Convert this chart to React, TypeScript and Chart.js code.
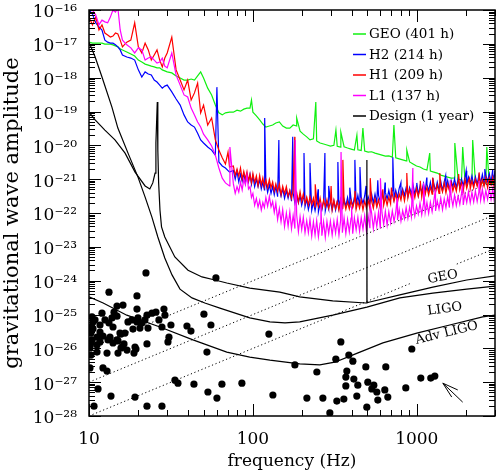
import React, { useEffect, useRef } from 'react';
import { Chart, registerables } from 'chart.js';

Chart.register(...registerables);

// ---------------------------------------------------------------------------
// Strain spectra (log10 amplitude). Main grid in Hz; above ~76 Hz the grid
// values trace the top of the noise band and the in-between frequencies
// (specFreqMid) trace its bottom.
// ---------------------------------------------------------------------------
const specFreq = [
  10, 10.5, 11, 11.5, 12, 12.5, 13, 13.5, 14, 14.5,
  15, 15.5, 16, 17, 18, 19, 20, 21, 22, 23,
  24, 25, 26, 27, 28, 29, 30, 32, 34, 36,
  38, 40, 42, 44, 46, 48, 50, 53, 56, 59,
  62, 65, 68, 72, 76, 80, 84, 88, 92, 96,
  100, 105, 110, 115, 120, 126, 132, 138, 145, 152,
  160, 168, 176, 185, 194, 203, 213, 223, 234, 245,
  257, 270, 283, 297, 312, 327, 343, 360, 378, 397,
  416, 437, 458, 481, 505, 530, 556, 584, 613, 643,
  675, 709, 744, 781, 820, 861, 904, 949, 996, 1046,
  1098, 1153, 1210, 1270, 1333, 1400, 1470, 1543, 1620, 1700,
  1785, 1875, 1968, 2066, 2170, 2278, 2392, 2512, 2637, 2769,
  2907, 3000,
];

const specFreqMid = [
  78, 82, 86, 90, 94, 98, 102.5, 107.5, 112.5, 117.5,
  123, 129, 135, 141.5, 148.5, 156, 164, 172, 180.5, 189.5,
  198.5, 208, 218, 228.5, 239.5, 251, 263.5, 276.5, 290, 304.5,
  319.5, 335, 351.5, 369, 387.5, 406.5, 426.5, 447.5, 469.5, 493,
  517.5, 543, 570, 598.5, 628, 659, 692, 726.5, 762.5, 800.5,
  840.5, 882.5, 926.5, 972.5, 1021, 1072, 1125, 1181, 1240, 1301,
  1366, 1435, 1506, 1581, 1660, 1742, 1830, 1921, 2017, 2118,
  2224, 2335, 2452, 2574, 2703, 2838, 2953,
];

const geoLogH = [
  -16.95, -16.98, -16.98, -16.98, -16.98, -17.01, -17.01, -17.01, -17.03, -17.06,
  -17.09, -17.15, -17.18, -17.24, -17.30, -17.36, -17.48, -17.54, -17.60, -17.63,
  -17.66, -17.68, -17.71, -17.71, -17.77, -17.80, -17.83, -17.86, -17.95, -18.01,
  -18.07, -18.07, -18.04, -18.07, -17.95, -17.83, -18.01, -18.31, -18.51, -18.81,
  -19.04, -19.10, -19.04, -19.02, -19.02, -18.96, -18.99, -18.93, -18.90, -18.90,
  -19.02, -19.13, -19.25, -19.37, -19.46, -19.43, -19.40, -19.34, -19.31, -19.43,
  -19.49, -19.49, -19.40, -19.43, -19.58, -19.67, -19.75, -19.84, -19.81, -19.87,
  -19.93, -19.96, -19.99, -20.02, -20.00, -20.03, -20.05, -20.04, -20.08, -20.11,
  -20.14, -20.13, -20.15, -20.17, -20.20, -20.19, -20.23, -20.26, -20.29, -20.32,
  -20.31, -20.35, -20.37, -20.40, -20.43, -20.46, -20.49, -20.55, -20.61, -20.64,
  -20.70, -20.73, -20.76, -20.79, -20.82, -20.88, -20.91, -20.94, -20.97, -20.96,
  -21.00, -21.03, -21.05, -21.04, -21.06, -21.08, -21.11, -21.10, -21.12, -21.14,
  -21.13, -21.14,
];

const h2LogH = [
  -16.00, -16.12, -16.38, -16.50, -16.59, -16.89, -16.95, -16.98, -16.98, -17.03,
  -17.09, -17.18, -17.33, -17.39, -17.42, -17.48, -17.77, -17.98, -17.83, -17.89,
  -17.92, -18.07, -18.13, -18.22, -18.31, -18.25, -18.22, -18.42, -18.63, -18.81,
  -19.10, -19.31, -19.40, -19.46, -19.64, -19.84, -19.93, -20.05, -20.14, -20.29,
  -20.49, -20.61, -20.67, -20.79, -20.74, -20.77, -20.85, -20.84, -20.87, -20.85,
  -20.91, -21.00, -21.01, -21.09, -21.09, -21.16, -21.21, -21.21, -21.29, -21.28,
  -21.34, -21.35, -21.41, -21.48, -21.49, -21.57, -21.59, -21.69, -21.68, -21.68,
  -21.73, -21.66, -21.69, -21.64, -21.64, -21.65, -21.60, -21.60, -21.54, -21.58,
  -21.54, -21.48, -21.53, -21.49, -21.52, -21.44, -21.44, -21.48, -21.40, -21.39,
  -21.33, -21.34, -21.33, -21.27, -21.29, -21.25, -21.25, -21.17, -21.20, -21.21,
  -21.13, -21.15, -21.09, -21.13, -21.09, -21.06, -21.08, -21.04, -21.04, -20.99,
  -20.99, -21.00, -20.95, -20.94, -20.91, -20.93, -20.89, -20.86, -20.88, -20.84,
  -20.84, -20.76,
];
const h2LowerLogH = [
  -21.00, -21.08, -21.06, -21.11, -21.08, -21.15, -21.22, -21.22, -21.29, -21.32,
  -21.39, -21.42, -21.46, -21.52, -21.50, -21.57, -21.56, -21.65, -21.71, -21.70,
  -21.77, -21.81, -21.90, -21.92, -21.93, -21.97, -21.91, -21.93, -21.88, -21.91,
  -21.91, -21.84, -21.84, -21.80, -21.82, -21.80, -21.76, -21.77, -21.72, -21.76,
  -21.70, -21.71, -21.72, -21.66, -21.64, -21.59, -21.60, -21.57, -21.55, -21.55,
  -21.48, -21.51, -21.43, -21.45, -21.47, -21.39, -21.38, -21.35, -21.37, -21.35,
  -21.32, -21.34, -21.27, -21.30, -21.23, -21.26, -21.26, -21.19, -21.19, -21.15,
  -21.18, -21.15, -21.12, -21.14, -21.07, -21.10, -21.02,
];

const h1LogH = [
  -16.21, -16.44, -16.21, -16.59, -16.44, -16.68, -16.74, -16.80, -16.77, -16.68,
  -16.71, -16.89, -17.09, -16.95, -16.89, -16.38, -17.09, -17.27, -16.98, -17.18,
  -17.48, -17.33, -17.18, -17.48, -17.68, -17.42, -17.27, -16.80, -17.77, -18.07,
  -18.36, -18.07, -18.66, -18.45, -18.16, -19.04, -18.81, -19.40, -19.19, -19.84,
  -20.14, -20.37, -20.55, -20.64, -20.61, -20.70, -20.67, -20.77, -20.78, -20.86,
  -20.83, -20.90, -20.89, -20.96, -21.02, -21.01, -21.08, -21.14, -21.14, -21.21,
  -21.22, -21.33, -21.30, -21.40, -21.37, -21.44, -21.53, -21.52, -21.56, -21.62,
  -21.56, -21.62, -21.60, -21.68, -21.62, -21.66, -21.60, -21.64, -21.67, -21.63,
  -21.64, -21.67, -21.61, -21.65, -21.63, -21.65, -21.57, -21.61, -21.52, -21.53,
  -21.53, -21.46, -21.44, -21.44, -21.35, -21.36, -21.31, -21.33, -21.27, -21.28,
  -21.19, -21.23, -21.23, -21.19, -21.17, -21.20, -21.11, -21.15, -21.10, -21.15,
  -21.06, -21.10, -21.01, -21.05, -21.05, -21.01, -20.99, -21.02, -20.96, -20.97,
  -20.95, -21.00,
];
const h1LowerLogH = [
  -20.89, -20.91, -21.00, -20.99, -21.05, -21.10, -21.10, -21.19, -21.17, -21.23,
  -21.25, -21.25, -21.35, -21.36, -21.46, -21.43, -21.50, -21.57, -21.58, -21.68,
  -21.65, -21.72, -21.76, -21.75, -21.83, -21.81, -21.87, -21.82, -21.87, -21.90,
  -21.87, -21.92, -21.86, -21.89, -21.88, -21.84, -21.89, -21.86, -21.91, -21.85,
  -21.87, -21.86, -21.82, -21.86, -21.77, -21.77, -21.73, -21.66, -21.68, -21.62,
  -21.64, -21.55, -21.55, -21.55, -21.51, -21.53, -21.45, -21.47, -21.44, -21.39,
  -21.42, -21.38, -21.41, -21.34, -21.35, -21.36, -21.31, -21.35, -21.27, -21.29,
  -21.26, -21.21, -21.24, -21.21, -21.25, -21.17, -21.20,
];

const l1LogH = [
  -15.70, -16.00, -16.15, -16.44, -16.30, -16.35, -16.38, -16.21, -16.00, -16.06,
  -15.94, -16.59, -16.89, -17.03, -17.12, -17.27, -17.12, -17.18, -17.48, -17.42,
  -17.39, -17.48, -17.57, -17.54, -17.42, -17.66, -17.71, -17.27, -17.92, -18.22,
  -18.51, -18.57, -18.90, -19.10, -19.31, -19.46, -19.67, -19.84, -20.02, -20.29,
  -20.67, -20.97, -21.11, -21.20, -21.14, -21.22, -21.09, -21.00, -20.87, -21.22,
  -21.42, -21.57, -21.63, -21.69, -21.54, -21.51, -21.66, -21.71, -21.87, -21.90,
  -22.00, -21.97, -22.07, -22.06, -22.11, -22.13, -22.23, -22.19, -22.26, -22.23,
  -22.30, -22.26, -22.25, -22.24, -22.25, -22.19, -22.21, -22.15, -22.19, -22.15,
  -22.14, -22.13, -22.14, -22.08, -22.09, -22.00, -22.04, -21.97, -21.99, -21.95,
  -21.96, -21.94, -21.97, -21.89, -21.93, -21.84, -21.83, -21.79, -21.79, -21.71,
  -21.72, -21.69, -21.68, -21.64, -21.64, -21.56, -21.58, -21.52, -21.51, -21.47,
  -21.50, -21.42, -21.43, -21.37, -21.39, -21.35, -21.38, -21.30, -21.34, -21.28,
  -21.27, -21.26,
];
const l1LowerLogH = [
  -21.42, -21.38, -21.32, -21.17, -21.29, -21.54, -21.77, -21.83, -21.91, -21.84,
  -21.80, -21.82, -21.98, -22.19, -22.26, -22.40, -22.39, -22.46, -22.46, -22.55,
  -22.49, -22.58, -22.58, -22.68, -22.65, -22.70, -22.67, -22.72, -22.61, -22.65,
  -22.59, -22.65, -22.58, -22.61, -22.56, -22.61, -22.50, -22.54, -22.48, -22.54,
  -22.45, -22.46, -22.40, -22.44, -22.34, -22.36, -22.29, -22.25, -22.21, -22.24,
  -22.17, -22.16, -22.11, -22.09, -22.03, -22.05, -21.99, -22.01, -21.96, -21.94,
  -21.88, -21.90, -21.84, -21.84, -21.79, -21.78, -21.74, -21.76, -21.69, -21.70,
  -21.67, -21.66, -21.62, -21.65, -21.60, -21.60, -21.56,
];

// Narrow spectral lines: [frequency Hz, log10 amplitude at the line peak]
const geoLines = [
  [98, -18.66], [185, -19.19], [242, -18.72], [321, -19.55], [344, -19.61],
  [431, -19.70], [469, -19.49], [725, -19.40], [869, -20.14], [1199, -20.23],
  [1706, -19.93], [1906, -20.05], [2193, -19.84], [2673, -20.05],
];
const h2Lines = [
  [60.3, -18.28], [118, -19.19], [144, -19.84], [175, -19.75], [205, -20.23],
  [223, -20.52], [250, -21.30], [275, -20.23], [290, -21.20], [330, -20.49],
  [390, -21.25], [419, -20.43], [450, -20.64], [490, -21.20], [578, -21.03],
  [640, -21.10], [714, -20.35], [800, -21.10], [1000, -21.11], [1150, -20.95],
  [1253, -20.97], [1500, -20.90], [2000, -20.75], [2600, -20.70], [2903, -20.73],
];
const h1Lines = [
  [70.5, -20.20], [180, -19.75], [240, -21.15], [300, -21.20], [354, -20.43],
  [420, -21.35], [520, -20.97], [620, -21.30], [700, -21.25], [869, -20.82],
  [1050, -21.05], [1250, -20.95], [1381, -20.82], [1800, -20.85], [2100, -20.97],
  [2400, -20.80],
];
const l1Lines = [
  [72.4, -20.05], [181, -19.84], [260, -21.70], [345, -20.20], [400, -21.80],
  [520, -21.75], [600, -20.97], [760, -21.55], [946, -20.67], [1100, -21.11],
  [1300, -21.30], [1600, -21.03], [1900, -21.15], [2400, -21.05],
];

// ---------------------------------------------------------------------------
// Design sensitivities (1 year of integration)
// ---------------------------------------------------------------------------
const geoDesignFreq = [
  10, 10.9, 12.5, 14.4, 16.6, 19.1, 22.0, 23.5, 24.5, 25.3,
  25.6, 26.1, 26.3, 26.6, 27.1, 27.7, 29.0, 33.4, 40.2, 48.9,
  58.6, 69.3, 95.7, 146, 193, 307, 489, 496, 496, 497,
  517, 788, 1253, 2017, 3000,
];
const geoDesignLogH = [
  -19.02, -19.25, -19.55, -19.84, -20.23, -20.79, -21.20, -21.29, -21.11, -20.82,
  -19.93, -18.72, -20.14, -21.11, -21.91, -22.41, -22.71, -23.30, -23.69, -23.89,
  -23.98, -24.07, -24.22, -24.34, -24.48, -24.60, -24.66, -24.66, -20.43, -24.65,
  -24.63, -24.42, -24.19, -23.98, -23.86,
];

const ligoDesignFreq = [
  10, 10.9, 12.0, 13.8, 15.0, 17.3, 19.9, 22.0, 24.2, 26.3,
  29.0, 32.1, 35.9, 42.5, 50.9, 62.9, 95.7, 127, 157, 193,
  307, 496, 788, 1253, 2017, 3000,
];
const ligoDesignLogH = [
  -16.95, -17.39, -17.98, -18.87, -19.49, -20.23, -20.94, -21.53, -22.12, -22.71,
  -23.33, -23.83, -24.25, -24.51, -24.66, -24.81, -25.10, -25.22, -25.25, -25.22,
  -25.02, -24.78, -24.51, -24.37, -24.25, -24.16,
];

const advLigoFreq = [
  10, 12.2, 17.0, 27.1, 43.1, 69.3, 95.7, 127, 193, 256,
  316, 391, 621, 1000, 1589, 2523, 3000,
];
const advLigoLogH = [
  -24.48, -24.66, -25.02, -25.37, -25.75, -26.11, -26.26, -26.35, -26.46, -26.49,
  -26.41, -26.23, -25.84, -25.55, -25.31, -25.07, -25.02,
];

// Lines of constant ellipticity (h ∝ f²), given by their end points
const ellipticityLowA = [[10, -28], [906, -24.09]];
const ellipticityLowB = [[1754, -23.51], [3000, -23.05]];
const ellipticityMid = [[10, -27], [3000, -22.05]];
const ellipticityHigh = [[10, -26], [3000, -21.05]];

// ---------------------------------------------------------------------------
// Known pulsars: gravitational-wave frequency and spin-down amplitude
// ---------------------------------------------------------------------------
const pulsarFreq = [
  22.26, 59.49, 13.24, 19.62, 12.00, 14.82, 16.12, 10.43, 10.58, 12.52,
  13.81, 14.21, 19.62, 22.58, 24.22, 25.62, 28.66, 29.07, 31.62, 50.25,
  39.59, 41.88, 55.45, 125.2, 17.29, 18.29, 19.62, 21.04, 21.95, 22.90,
  18.55, 20.46, 15.45, 16.58, 10.14, 10.28, 11.67, 13.24, 14.01, 10.43,
  11.19, 11.67, 13.06, 14.01, 14.82, 15.89, 17.05, 10.14, 11.19, 10.28,
  12.88, 15.03, 18.81, 19.35, 22.58, 30.32, 30.75, 52.42, 10.14, 12.17,
  12.88, 33.45, 34.89, 43.68, 64.71, 85.68, 11.35, 13.62, 19.08, 53.16,
  60.33, 132.4, 10.73, 22.58, 27.87, 26.72, 27.87, 19.90, 13.43, 11.19,
  16.35, 11.67, 10.88, 344.0, 932.3, 320.7, 384.9, 407.2, 180.4, 245.6,
  374.2, 488.7, 647.0, 369.0, 412.9, 369.0, 436.7, 502.6, 546.7, 531.6,
  570.3, 638.0, 665.4, 578.4, 430.6, 856.8, 1058, 1217, 1288, 213.5,
  267.3, 325.2, 358.8, 495.6, 294.8, 14.82, 12.17, 15.67, 15.03, 19.08,
  15.67, 10.28, 10.58,
];
const pulsarLogH = [
  -23.77, -23.92, -24.34, -24.45, -24.96, -24.75, -24.72, -25.07, -25.22, -25.16,
  -25.10, -24.93, -24.84, -25.02, -24.96, -24.93, -24.84, -25.02, -25.31, -24.99,
  -25.34, -25.49, -25.31, -25.58, -25.22, -25.16, -25.22, -25.25, -25.16, -25.40,
  -25.43, -25.40, -25.55, -25.55, -25.37, -25.55, -25.52, -25.25, -25.37, -25.75,
  -25.67, -25.81, -25.75, -25.84, -25.75, -25.96, -26.05, -25.99, -26.11, -26.20,
  -26.14, -26.14, -26.14, -26.02, -25.87, -25.81, -25.67, -26.11, -26.58, -26.58,
  -26.67, -26.94, -27.03, -27.06, -27.06, -27.03, -27.20, -27.41, -27.44, -27.29,
  -27.47, -27.38, -27.71, -27.71, -27.71, -25.16, -25.37, -25.10, -25.67, -25.90,
  -25.87, -25.31, -25.16, -25.81, -26.02, -26.32, -26.20, -26.38, -26.49, -26.70,
  -26.67, -26.55, -26.55, -26.85, -26.91, -27.11, -27.09, -27.00, -27.09, -27.20,
  -27.29, -27.23, -27.44, -27.53, -27.41, -27.17, -26.88, -26.88, -26.82, -27.47,
  -27.47, -27.56, -27.50, -27.74, -27.91, -25.05, -25.64, -25.58, -25.78, -25.96,
  -25.99, -25.85, -25.42,
];

// Curve annotations: [text, frequency, log10 amplitude, angle in degrees]
const curveLabels: [string, number, number, number][] = [
  ['GEO', 1440, -23.89, -11],
  ['LIGO', 1482, -24.84, -8],
  ['Adv LIGO', 1524, -25.55, -14],
];

// Arrow next to the highest-frequency pulsars: tip, tail and two barbs
const arrowTip = [1442, -27.03];
const arrowTail = [1905, -27.59];
const arrowBarbs = [[1778, -27.23], [1633, -27.44]];

// Axis ticks and labels
const xTickValues = [10, 100, 1000];
const xTickLabels = ['10', '100', '1000'];
const yTickExponents = [-28, -27, -26, -25, -24, -23, -22, -21, -20, -19, -18, -17, -16];
const yTickLabels = [
  '10⁻²⁸', '10⁻²⁷', '10⁻²⁶', '10⁻²⁵', '10⁻²⁴', '10⁻²³', '10⁻²²',
  '10⁻²¹', '10⁻²⁰', '10⁻¹⁹', '10⁻¹⁸', '10⁻¹⁷', '10⁻¹⁶',
];

const series = [
  { label: 'GEO (401 h)', color: '#10f010', logh: geoLogH, lower: [] as number[], lines: geoLines },
  { label: 'H2 (214 h)', color: '#0000ff', logh: h2LogH, lower: h2LowerLogH, lines: h2Lines },
  { label: 'H1 (209 h)', color: '#ff0000', logh: h1LogH, lower: h1LowerLogH, lines: h1Lines },
  { label: 'L1 (137 h)', color: '#ff00ff', logh: l1LogH, lower: l1LowerLogH, lines: l1Lines },
];
const designLabel = 'Design (1 year)';

const SERIF = '"DejaVu Serif", serif';

const pairsToPoints = (pairs: number[][]) => pairs.map(([f, l]) => ({ x: f, y: Math.pow(10, l) }));
const arraysToPoints = (freq: number[], logh: number[]) =>
  logh.map((l, i) => ({ x: freq[i], y: Math.pow(10, l) }));
const spectrumPoints = (logh: number[], lower: number[], lines: number[][]) =>
  arraysToPoints(specFreq, logh)
    .concat(arraysToPoints(specFreqMid, lower))
    .concat(pairsToPoints(lines))
    .sort((a, b) => a.x - b.x);

// Inside ticks on all four sides plus the frame
const framePlugin = {
  id: 'frameTicks',
  afterDatasetsDraw(chart: any) {
    const { ctx, chartArea } = chart;
    const { left, right, top, bottom } = chartArea;
    const xs = chart.scales.x;
    const ys = chart.scales.y;
    ctx.save();
    ctx.strokeStyle = '#000';
    ctx.lineWidth = 1;
    const seg = (x1: number, y1: number, x2: number, y2: number) => {
      ctx.beginPath();
      ctx.moveTo(x1, y1);
      ctx.lineTo(x2, y2);
      ctx.stroke();
    };
    for (let d = 10; d <= 1000; d *= 10) {
      for (let m = 1; m <= 9; m++) {
        const v = d * m;
        if (v > 3000) break;
        const px = Math.round(xs.getPixelForValue(v)) + 0.5;
        const len = m === 1 ? 12 : 6;
        seg(px, bottom, px, bottom - len);
        seg(px, top, px, top + len);
      }
    }
    for (let e = -28; e <= -16; e++) {
      for (let m = 1; m <= 9; m++) {
        if (e === -16 && m > 1) break;
        const v = m * Math.pow(10, e);
        const py = Math.round(ys.getPixelForValue(v)) + 0.5;
        const len = m === 1 ? 12 : 6;
        seg(left, py, left + len, py);
        seg(right, py, right - len, py);
      }
    }
    ctx.lineWidth = 1.5;
    ctx.strokeRect(left, top, right - left, bottom - top);
    ctx.restore();
  },
};

// Curve names, arrow and the inset key
const annotationPlugin = {
  id: 'annotations',
  afterDatasetsDraw(chart: any) {
    const { ctx, chartArea } = chart;
    const xs = chart.scales.x;
    const ys = chart.scales.y;
    const px = (p: number[]) => [xs.getPixelForValue(p[0]), ys.getPixelForValue(Math.pow(10, p[1]))];
    ctx.save();
    ctx.fillStyle = '#000';
    ctx.font = `13px ${SERIF}`;
    ctx.textAlign = 'center';
    ctx.textBaseline = 'middle';
    curveLabels.forEach(([text, f, l, ang]) => {
      const [x, y] = px([f, l]);
      ctx.save();
      ctx.translate(x, y);
      ctx.rotate((ang * Math.PI) / 180);
      ctx.fillText(text, 0, 0);
      ctx.restore();
    });

    ctx.strokeStyle = '#000';
    ctx.lineWidth = 1;
    const [tx, ty] = px(arrowTip);
    [arrowTail, ...arrowBarbs].forEach((p) => {
      const [x, y] = px(p);
      ctx.beginPath();
      ctx.moveTo(tx, ty);
      ctx.lineTo(x, y);
      ctx.stroke();
    });

    const entries = [
      ...series.map((s) => ({ label: s.label, color: s.color })),
      { label: designLabel, color: '#000' },
    ];
    ctx.textAlign = 'left';
    ctx.font = `13.5px ${SERIF}`;
    const x0 = chartArea.right - 142;
    entries.forEach((e, i) => {
      const y = chartArea.top + 24 + i * 20.5;
      ctx.strokeStyle = e.color;
      ctx.lineWidth = 1.5;
      ctx.beginPath();
      ctx.moveTo(x0, y);
      ctx.lineTo(x0 + 13, y);
      ctx.stroke();
      ctx.fillStyle = '#000';
      ctx.fillText(e.label, x0 + 16, y + 0.5);
    });
    ctx.restore();
  },
};

export default function App() {
  const canvasRef = useRef<HTMLCanvasElement | null>(null);

  useEffect(() => {
    document.body.style.margin = '0';
    const canvas = canvasRef.current;
    if (!canvas) return;

    const lineDs = (label: string, data: any[], color: string, width: number, order: number, extra: any = {}) => ({
      label,
      data,
      showLine: true,
      borderColor: color,
      backgroundColor: color,
      borderWidth: width,
      pointRadius: 0,
      fill: false,
      tension: 0,
      order,
      ...extra,
    });

    const dotted = { borderDash: [1.2, 2.6] };
    const datasets: any[] = [
      lineDs('e1', pairsToPoints(ellipticityLowA), '#000', 1, 20, dotted),
      lineDs('e2', pairsToPoints(ellipticityLowB), '#000', 1, 20, dotted),
      lineDs('e3', pairsToPoints(ellipticityMid), '#000', 1, 20, dotted),
      lineDs('e4', pairsToPoints(ellipticityHigh), '#000', 1, 20, dotted),
      ...series.map((s, i) =>
        lineDs(s.label, spectrumPoints(s.logh, s.lower, s.lines), s.color, 1.2, 15 - i),
      ),
      lineDs(designLabel, arraysToPoints(geoDesignFreq, geoDesignLogH), '#000', 1.2, 5),
      lineDs('LIGO design', arraysToPoints(ligoDesignFreq, ligoDesignLogH), '#000', 1.2, 5),
      lineDs('Adv LIGO design', arraysToPoints(advLigoFreq, advLigoLogH), '#000', 1.2, 5),
      {
        label: 'pulsars',
        data: arraysToPoints(pulsarFreq, pulsarLogH),
        showLine: false,
        pointRadius: 3.6,
        pointBorderWidth: 0,
        pointBackgroundColor: '#000',
        pointBorderColor: '#000',
        order: 0,
      },
    ];

    const chart = new Chart(canvas, {
      type: 'scatter',
      data: { datasets },
      options: {
        responsive: false,
        animation: false,
        devicePixelRatio: 1,
        layout: { padding: { top: 0, right: 7, left: 0, bottom: 0 } },
        plugins: { legend: { display: false }, tooltip: { enabled: false } },
        scales: {
          x: {
            type: 'logarithmic',
            min: 10,
            max: 3000,
            grid: { display: false, drawTicks: false },
            border: { display: false },
            afterBuildTicks: (s: any) => {
              s.ticks = xTickValues.map((v) => ({ value: v }));
            },
            afterFit: (s: any) => {
              s.height = 56;
              s.paddingLeft = 0;
              s.paddingRight = 0;
            },
            ticks: {
              autoSkip: false,
              maxRotation: 0,
              padding: 13,
              color: '#000',
              font: { family: SERIF, size: 17 },
              callback: (_v: any, i: number) => xTickLabels[i],
            },
            title: {
              display: true,
              text: 'frequency (Hz)',
              color: '#000',
              font: { family: SERIF, size: 17, lineHeight: 1.2 },
              padding: { top: 0, bottom: 0 },
            },
          },
          y: {
            type: 'logarithmic',
            min: 1e-28,
            max: 1e-16,
            grid: { display: false, drawTicks: false },
            border: { display: false },
            afterBuildTicks: (s: any) => {
              s.ticks = yTickExponents.map((e) => ({ value: Math.pow(10, e) }));
            },
            afterFit: (s: any) => {
              s.width = 89;
              s.paddingTop = 10;
              s.paddingBottom = 0;
            },
            ticks: {
              autoSkip: false,
              padding: 12,
              labelOffset: 3,
              color: '#000',
              font: { family: SERIF, size: 17 },
              callback: (_v: any, i: number) => yTickLabels[i],
            },
            title: {
              display: true,
              text: 'gravitational wave amplitude',
              color: '#000',
              font: { family: SERIF, size: 21, lineHeight: 1.2 },
              padding: { top: 0, bottom: 0 },
            },
          },
        },
      } as any,
      plugins: [framePlugin, annotationPlugin],
    });

    return () => chart.destroy();
  }, []);

  return (
    <div style={{ width: 502, height: 472 }}>
      <canvas ref={canvasRef} width={502} height={472} style={{ display: 'block' }} />
    </div>
  );
}
